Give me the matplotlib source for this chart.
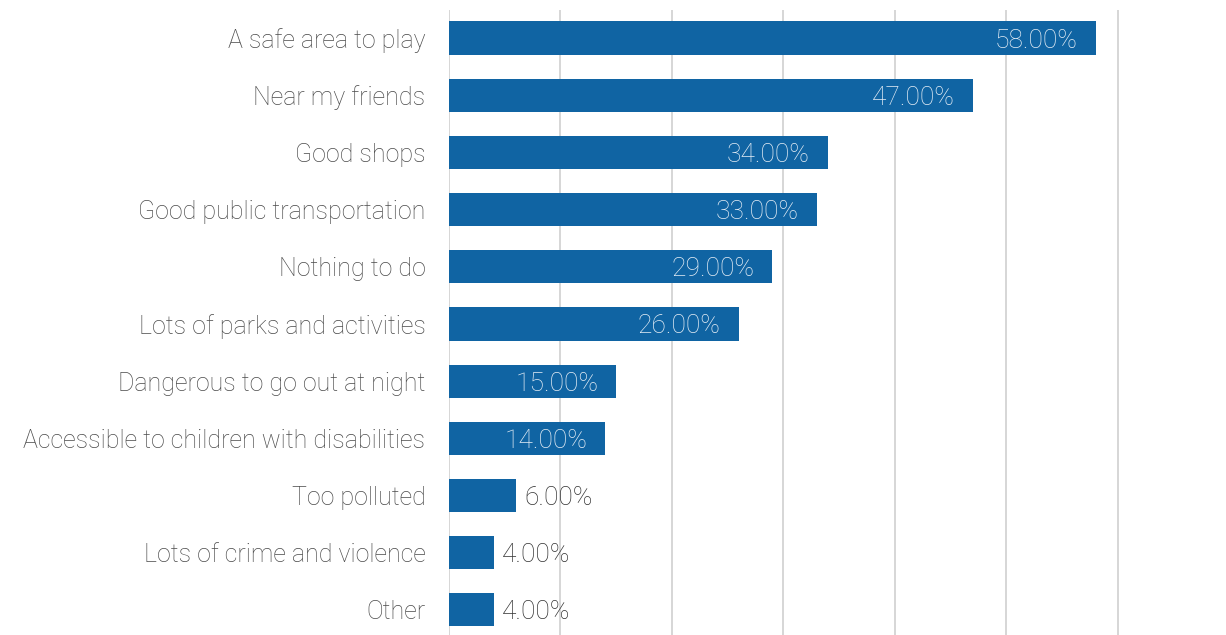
import matplotlib
matplotlib.use("Agg")
import matplotlib.pyplot as plt

plt.rcParams['font.family'] = ['Roboto', 'DejaVu Sans']

categories = ["A safe area to play", "Near my friends", "Good shops",
              "Good public transportation", "Nothing to do",
              "Lots of parks and activities", "Dangerous to go out at night",
              "Accessible to children with disabilities", "Too polluted",
              "Lots of crime and violence", "Other"]
values = [58, 47, 34, 33, 29, 26, 15, 14, 6, 4, 4]

bar_color = "#1064a3"

fig = plt.figure(figsize=(12.26, 6.35), dpi=100)
ax = fig.add_axes([449 / 1226, 0, 1 - 449 / 1226, 1 - 10 / 635])

ypos = list(range(len(categories)))
bars = ax.barh(ypos, values, height=0.58, color=bar_color, zorder=3)

ax.set_xlim(0, 69.7)
ax.set_ylim(10.44, -0.49)
ax.set_xticks([0, 10, 20, 30, 40, 50, 60])
ax.set_xticklabels([])
ax.xaxis.grid(True, color="#d0d0d0", linewidth=1.2, zorder=0)
ax.tick_params(axis='both', length=0)
ax.tick_params(axis='y', pad=17)
for s in ax.spines.values():
    s.set_visible(False)

ax.set_yticks(ypos)
ax.set_yticklabels(categories, fontsize=18, color="#4a4a4a", fontweight='light')
for lab in ax.get_yticklabels():
    lab.set_verticalalignment('center_baseline')

# value labels: inside for long bars, outside for short
for y, v in zip(ypos, values):
    txt = f"{v:.2f}%"
    if v >= 10:
        ax.annotate(txt, (v, y), xytext=(-13, 0), textcoords='offset points',
                    ha='right', va='center_baseline', fontsize=19, color="#e6eef6",
                    fontweight='light', zorder=4)
    else:
        ax.annotate(txt, (v, y), xytext=(6, 0), textcoords='offset points',
                    ha='left', va='center_baseline', fontsize=19, color="#333333",
                    fontweight='light', zorder=4)

fig.savefig("out.png", dpi=100)
